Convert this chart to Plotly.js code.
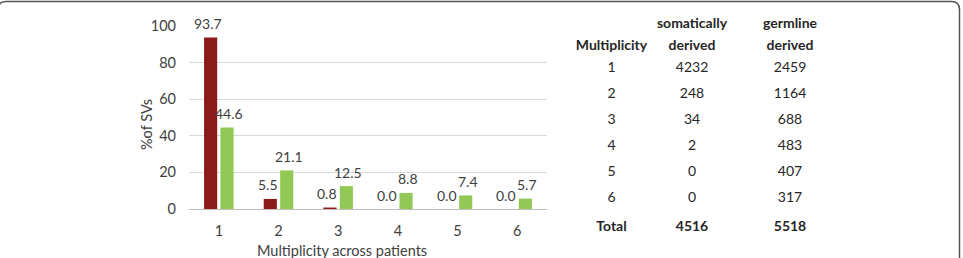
<!DOCTYPE html>
<html>
<head>
<meta charset="utf-8">
<script src="https://cdn.plot.ly/plotly-3.0.1.min.js"></script>
<style>
  html, body { margin: 0; padding: 0; background: #ffffff; }
  #chart { width: 963px; height: 258px; }
</style>
</head>
<body>
<div id="chart"></div>
<script>
// Multiplicity of structural variants across patients
const categories = ['1', '2', '3', '4', '5', '6'];
const somaticPct = [93.7, 5.5, 0.8, 0.0, 0.0, 0.0];
const germlinePct = [44.6, 21.1, 12.5, 8.8, 7.4, 5.7];

// Counts table (two header lines per column)
const headerLine1 = [' ', 'somatically', 'germline'];
const headerLine2 = ['Multiplicity', 'derived', 'derived'];
const multiplicityRows = ['1', '2', '3', '4', '5', '6'];
const somaticCounts = [4232, 248, 34, 2, 0, 0];
const germlineCounts = [2459, 1164, 688, 483, 407, 317];
const totalLabel = 'Total';

const W = 963, H = 258;
const px = x => x / W;              // pixel column -> paper x
const py = y => (H - y) / H;        // pixel row -> paper y

const FONT = 'Lato, "Open Sans", sans-serif';
const TXT = '#404040';
const TBL = '#262626';
const RED = '#8b1a1a';
const GREEN = '#92c956';

const somaticTrace = {
  type: 'bar', x: categories, y: somaticPct, name: 'somatically derived',
  marker: { color: RED }, hoverinfo: 'skip'
};
const germlineTrace = {
  type: 'bar', x: categories, y: germlinePct, name: 'germline derived',
  marker: { color: GREEN }, hoverinfo: 'skip'
};

// value labels above each bar (x given as category index)
const annotations = [];
categories.forEach((c, i) => {
  annotations.push({
    x: i, y: somaticPct[i], xref: 'x', yref: 'y', text: somaticPct[i].toFixed(1),
    showarrow: false, xshift: -11, yshift: 14, yanchor: 'middle',
    font: { family: FONT, size: 14, color: TXT }
  });
  annotations.push({
    x: i, y: germlinePct[i], xref: 'x', yref: 'y', text: germlinePct[i].toFixed(1),
    showarrow: false, xshift: 10, yshift: 14, yanchor: 'middle',
    font: { family: FONT, size: 14, color: TXT }
  });
});
// axis titles
annotations.push({
  xref: 'paper', yref: 'paper', x: px(146), y: py(125), text: '%of SVs',
  textangle: -90, showarrow: false, xanchor: 'center', yanchor: 'middle',
  font: { family: FONT, size: 14.5, color: TXT }
});
annotations.push({
  xref: 'paper', yref: 'paper', x: px(342), y: py(250), text: 'Multiplicity across patients',
  showarrow: false, xanchor: 'center', yanchor: 'middle',
  font: { family: FONT, size: 14.5, color: TXT }
});

// table columns, Total row in bold
const sumOf = arr => arr.reduce((a, b) => a + b, 0);
const bold = s => '<b>' + s + '</b>';
const colMult = multiplicityRows.concat([bold(totalLabel)]);
const colSom = somaticCounts.map(String).concat([bold(String(sumOf(somaticCounts)))]);
const colGerm = germlineCounts.map(String).concat([bold(String(sumOf(germlineCounts)))]);
const headerValues = headerLine1.map((t, i) => [t, headerLine2[i]]);

const tableTrace = {
  type: 'table',
  domain: { x: [px(571), px(848)], y: [0, py(9)] },
  columnwidth: [81, 80, 116],
  header: {
    values: headerValues,
    align: 'center', height: 22,
    line: { width: 0, color: 'rgba(0,0,0,0)' },
    fill: { color: 'rgba(0,0,0,0)' },
    font: { family: FONT, size: 14, color: TBL, weight: 'bold' }
  },
  cells: {
    values: [colMult, colSom, colGerm],
    align: 'center', height: 26,
    line: { width: 0, color: 'rgba(0,0,0,0)' },
    fill: { color: 'rgba(0,0,0,0)' },
    font: { family: FONT, size: 14, color: TBL }
  }
};

// rounded frame around the figure
const r = 8;
const L = -2, R = 959.5, T = 1.5, B = 270;
const framePath =
  `M ${px(L)},${py(B)} L ${px(L)},${py(T + r)} Q ${px(L)},${py(T)} ${px(L + r)},${py(T)} ` +
  `L ${px(R - r)},${py(T)} Q ${px(R)},${py(T)} ${px(R)},${py(T + r)} L ${px(R)},${py(B)}`;

const layout = {
  width: W, height: H,
  margin: { l: 0, r: 0, t: 0, b: 0 },
  paper_bgcolor: '#ffffff', plot_bgcolor: '#ffffff',
  showlegend: false,
  barmode: 'group', bargap: 0.45, bargroupgap: 0.2,
  font: { family: FONT, color: TXT },
  xaxis: {
    domain: [px(189), px(547)], type: 'category',
    showgrid: false, zeroline: false, showline: false, ticks: '',
    tickfont: { family: FONT, size: 14.5, color: TXT },
    ticklabelstandoff: 11, fixedrange: true
  },
  yaxis: {
    domain: [py(209), py(26)], range: [0, 100], dtick: 20,
    showgrid: true, gridcolor: '#d9d9d9', gridwidth: 1,
    zeroline: true, zerolinecolor: '#bfbfbf', zerolinewidth: 1,
    showline: false, ticks: '',
    tickfont: { family: FONT, size: 14.5, color: TXT },
    ticklabelstandoff: 12, fixedrange: true
  },
  annotations: annotations,
  shapes: [{
    type: 'path', xref: 'paper', yref: 'paper', path: framePath,
    line: { color: '#555555', width: 1.5 }
  }]
};

Plotly.newPlot('chart', [somaticTrace, germlineTrace, tableTrace], layout,
  { staticPlot: true, displayModeBar: false });
</script>
</body>
</html>
